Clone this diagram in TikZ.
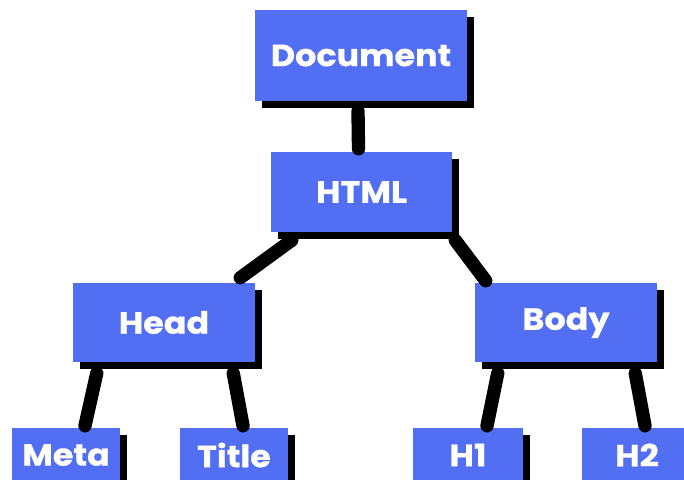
\documentclass[tikz,border=0pt]{standalone}
\usepackage{fontspec}
\newfontfamily\tagfont{Poppins}[FakeStretch=1.09,FakeBold=0.6]
\usetikzlibrary{calc,shadows}
\definecolor{boxblue}{RGB}{82,110,243}
\begin{document}
\begin{tikzpicture}[x=0.75pt,y=0.75pt,yscale=-1,xscale=1,
    tag/.style={fill=boxblue,text=white,font=\tagfont\bfseries\fontsize{23}{23}\selectfont,
        inner sep=0pt,drop shadow={shadow xshift=5pt,shadow yshift=-5pt,opacity=1,fill=black}},
    link/.style={line width=10pt,line cap=round}]
    %set diagram size to 684 x 479
    \useasboundingbox (0,0) rectangle (684,479);
    \clip (0,0) rectangle (684,479);
    % Boxes
    \node[tag,minimum width=212*0.75pt,minimum height=91*0.75pt] (doc) at (361,55.5) {Document};
    \node[tag,minimum width=181*0.75pt,minimum height=80*0.75pt] (html) at (361.5,192) {HTML};
    \node[tag,minimum width=182*0.75pt,minimum height=79*0.75pt] (head) at (164,322.5) {Head};
    \node[tag,minimum width=182*0.75pt,minimum height=79*0.75pt] (body) at (566,322.5) {Body};
    \node[tag,minimum width=108*0.75pt,minimum height=54*0.75pt] (meta) at (66,455) {Meta};
    \node[tag,minimum width=108*0.75pt,minimum height=54*0.75pt] (title) at (234,455) {Title};
    \node[tag,minimum width=110*0.75pt,minimum height=54*0.75pt] (hone) at (468,455) {H1};
    \node[tag,minimum width=110*0.75pt,minimum height=54*0.75pt] (htwo) at (637,455) {H2};
    % Links
    \draw[link] ($(doc.south)+(-3,10)$) -- ($(html.north)+(-3,-3)$);
    \draw[link] ($(html.south west)+(21,8)$) -- ($(head.north east)+(-15,-5)$);
    \draw[link] ($(html.south east)+(3,8)$) -- ($(body.north west)+(11,-2)$);
    \draw[link] ($(head.south west)+(24,11)$) -- ($(meta.north)+(19,-2)$);
    \draw[link] ($(head.south east)+(-22,11)$) -- ($(title.north)+(9,-2)$);
    \draw[link] ($(body.south west)+(23,11)$) -- ($(hone.north)+(19,-2)$);
    \draw[link] ($(body.south east)+(-22,11)$) -- ($(htwo.north)+(8,-2)$);
\end{tikzpicture}
\end{document}
